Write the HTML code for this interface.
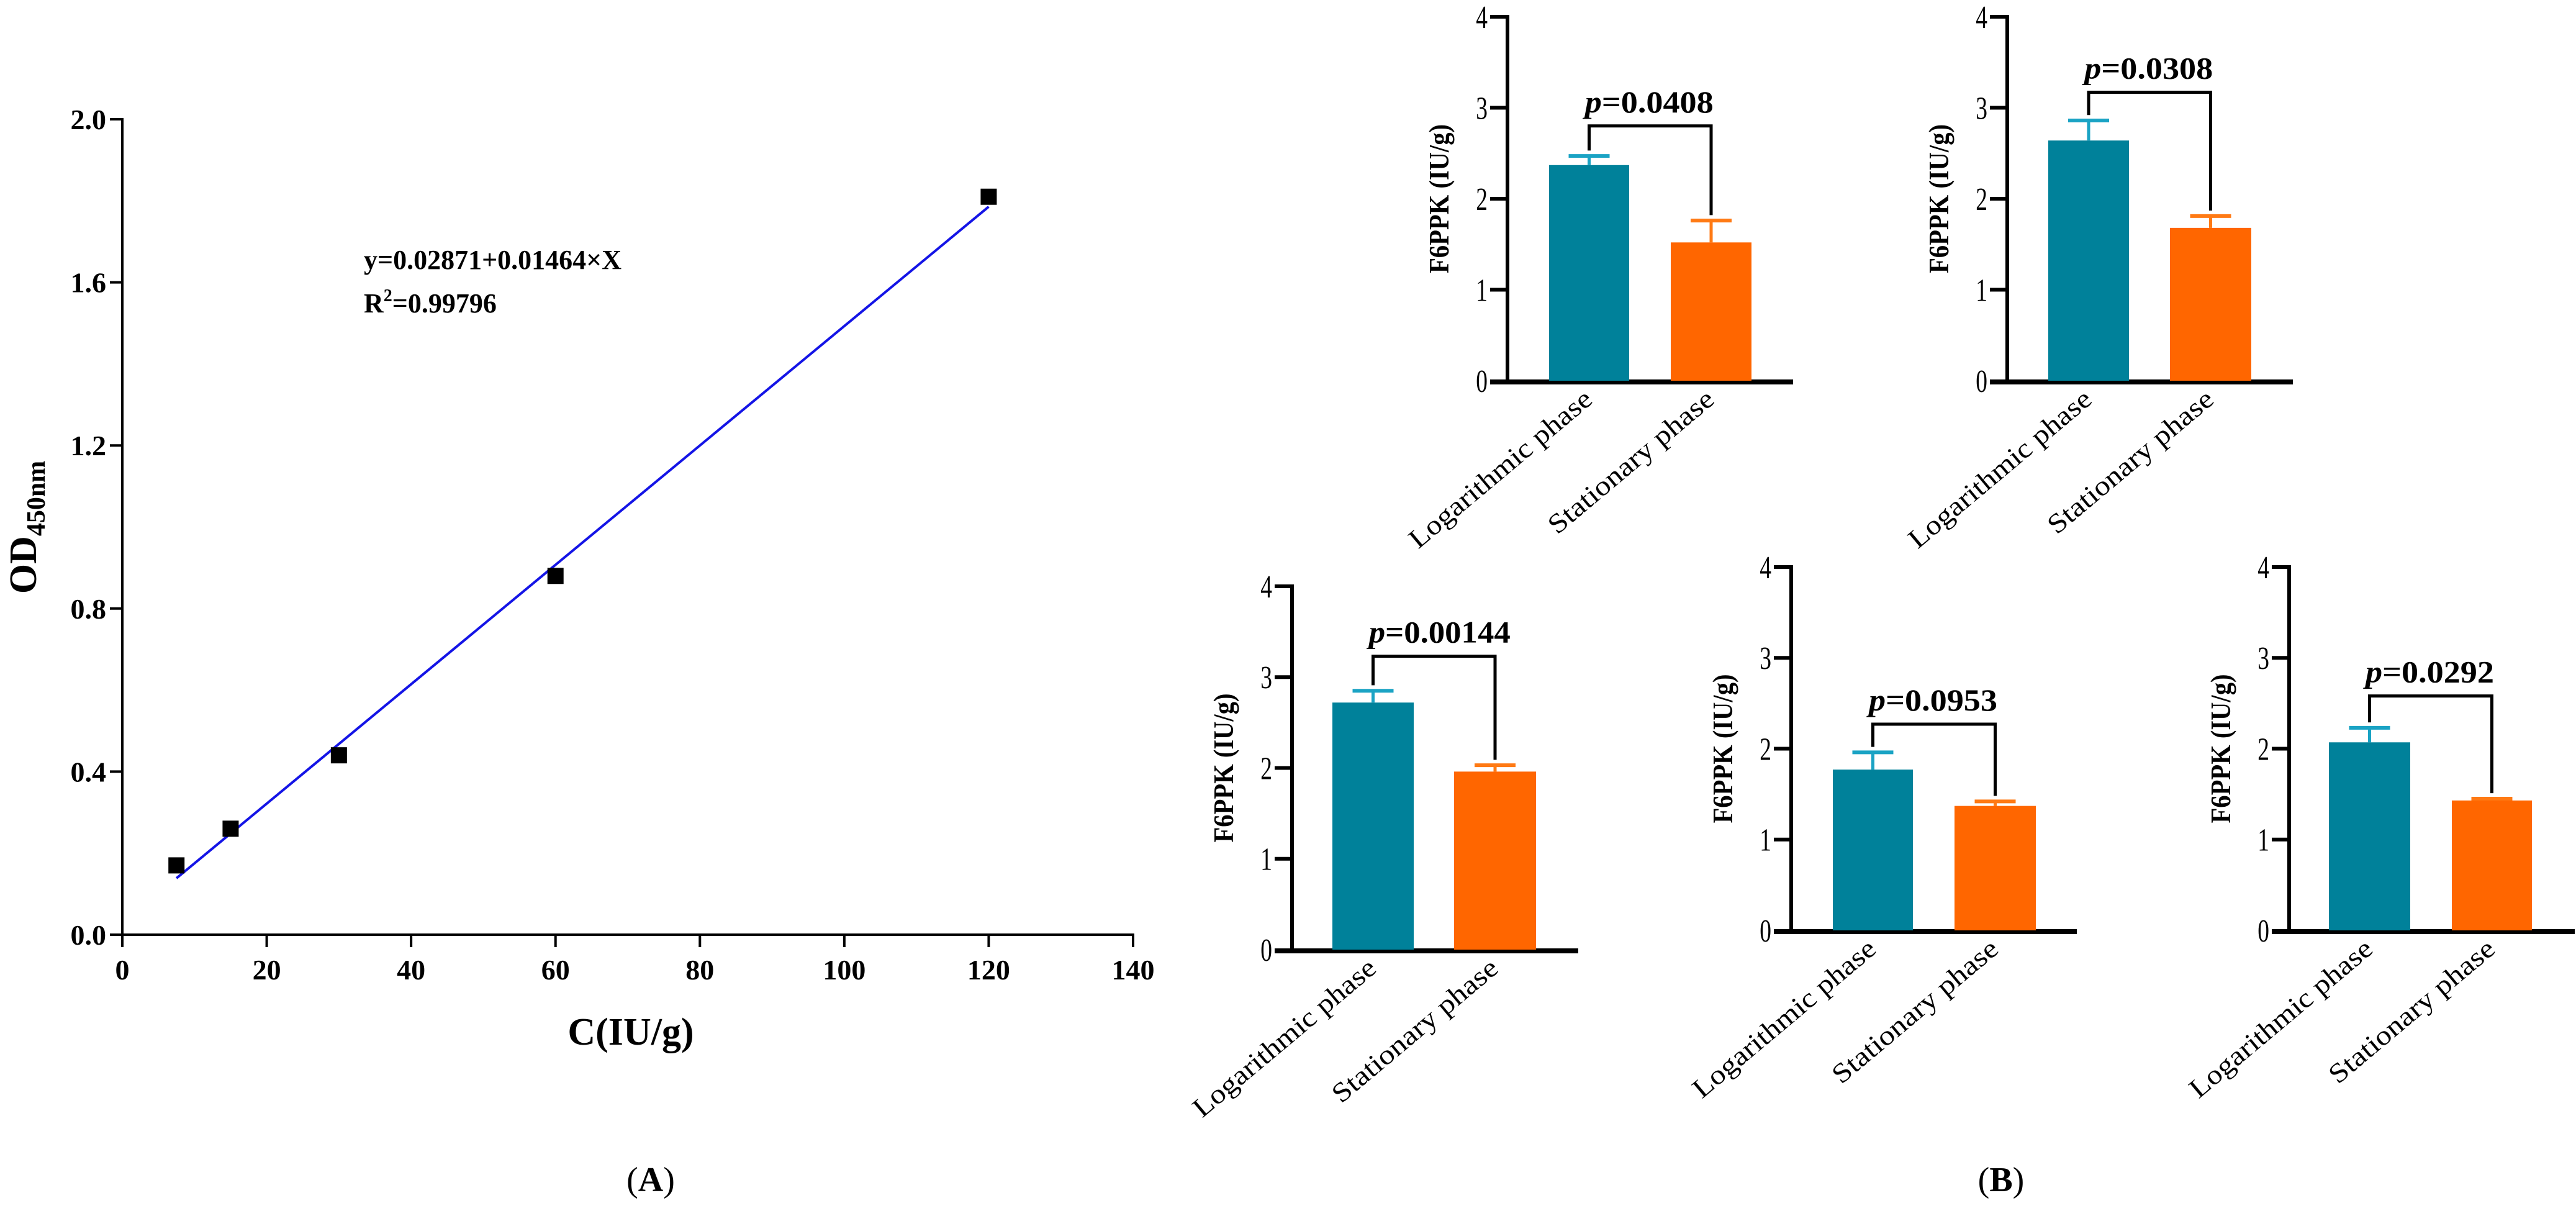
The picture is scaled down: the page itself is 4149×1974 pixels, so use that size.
<!DOCTYPE html>
<html><head><meta charset="utf-8"><style>
html,body{margin:0;padding:0;background:#fff;}
svg{display:block;font-family:"Liberation Serif",serif;}
</style></head><body>
<svg id="fig" width="4149" height="1974" viewBox="0 0 4149 1974" xmlns="http://www.w3.org/2000/svg">
<g id="panelA"></g>
<g id="panelB"></g>
<text x="1048" y="1918" font-size="56" text-anchor="middle">(<tspan font-weight="bold">A</tspan>)</text>
<text x="3223" y="1918" font-size="56" text-anchor="middle">(<tspan font-weight="bold">B</tspan>)</text>
</svg>
<script>
// Panel A data
const concX = [7.5, 15, 30, 60, 120];
const odY = [0.17, 0.26, 0.44, 0.88, 1.81];
const xTicksA = [0, 20, 40, 60, 80, 100, 120, 140];
const yTicksA = ["0.0", "0.4", "0.8", "1.2", "1.6", "2.0"];
const fitIntercept = 0.02871;
const fitSlope = 0.01464;

// Panel B data
const categories = ["Logarithmic phase", "Stationary phase"];
const logMeans = [2.37, 2.64, 2.72, 1.77, 2.07];
const logErr = [0.10, 0.22, 0.13, 0.19, 0.16];
const statMeans = [1.52, 1.68, 1.96, 1.37, 1.43];
const statErr = [0.24, 0.13, 0.07, 0.05, 0.02];
const pLabels = ["0.0408", "0.0308", "0.00144", "0.0953", "0.0292"];
const bracketLevels = [2.8, 3.17, 3.23, 2.27, 2.58];
const yTicksB = [0, 1, 2, 3, 4];

const NS = "http://www.w3.org/2000/svg";
function mk(parent, tag, attrs, txt) {
  const e = document.createElementNS(NS, tag);
  for (const k in attrs) e.setAttribute(k, attrs[k]);
  if (txt !== undefined) e.textContent = txt;
  parent.appendChild(e);
  return e;
}

// ---------- Panel A ----------
const A = document.getElementById('panelA');
const ax0 = 197, ax1 = 1825, ay0 = 1505, ay1 = 192;
const sxA = v => ax0 + (v / 140) * (ax1 - ax0);
const syA = v => ay0 - (v / 2.0) * (ay0 - ay1);
let e;
e = mk(A, 'line', {x1: ax0, y1: ay0, x2: ax0, y2: ay1 - 2, stroke: '#000', 'stroke-width': 4});
 
e = mk(A, 'line', {x1: ax0 - 2, y1: ay0, x2: ax1 + 2, y2: ay0, stroke: '#000', 'stroke-width': 4});
 
xTicksA.forEach(t => {
  const x = sxA(t);
  mk(A, 'line', {x1: x, y1: ay0, x2: x, y2: ay0 + 20, stroke: '#000', 'stroke-width': 4});
  e = mk(A, 'text', {x: x, y: ay0 + 72, 'font-size': 46, 'font-weight': 'bold', 'text-anchor': 'middle'}, t);
   
});
yTicksA.forEach(t => {
  const y = syA(parseFloat(t));
  mk(A, 'line', {x1: ax0 - 20, y1: y, x2: ax0, y2: y, stroke: '#000', 'stroke-width': 4});
  e = mk(A, 'text', {x: ax0 - 26, y: y + 16, 'font-size': 46, 'font-weight': 'bold', 'text-anchor': 'end'}, t);
   
});
e = mk(A, 'text', {x: 1016, y: 1682, 'font-size': 62, 'font-weight': 'bold', 'text-anchor': 'middle'}, 'C(IU/g)');
 
e = mk(A, 'text', {x: 0, y: 0, 'font-size': 62, 'font-weight': 'bold', 'text-anchor': 'middle', transform: 'translate(58,849) rotate(-90)'});
 
e.innerHTML = 'OD<tspan font-size="42" dy="14">450nm</tspan>';
const fx0 = concX[0], fx1 = concX[concX.length - 1];
e = mk(A, 'line', {x1: sxA(fx0), y1: syA(fitIntercept + fitSlope * fx0), x2: sxA(fx1), y2: syA(fitIntercept + fitSlope * fx1), stroke: '#1414e6', 'stroke-width': 4});
 
concX.forEach((c, i) => {
  e = mk(A, 'rect', {x: sxA(c) - 13, y: syA(odY[i]) - 13, width: 26, height: 26, fill: '#000'});
   
});
e = mk(A, 'text', {x: 586, y: 433, 'font-size': 44, 'font-weight': 'bold'}, 'y=0.02871+0.01464\u00d7X');
 
e = mk(A, 'text', {x: 586, y: 503, 'font-size': 44, 'font-weight': 'bold'});
 
e.innerHTML = 'R<tspan font-size="28" dy="-18">2</tspan><tspan dy="18">=0.99796</tspan>';

// ---------- Panel B ----------
const B = document.getElementById('panelB');
const charts = [
  {ax: 2428, y0: 613, y4: 27, xEnd: 2888, b1: [2495, 2624], b2: [2691, 2821]},
  {ax: 3233, y0: 613, y4: 27, xEnd: 3693, b1: [3299, 3429], b2: [3495, 3626]},
  {ax: 2081, y0: 1529, y4: 944, xEnd: 2542, b1: [2146, 2277], b2: [2342, 2474]},
  {ax: 2885, y0: 1498, y4: 913, xEnd: 3345, b1: [2952, 3081], b2: [3148, 3279]},
  {ax: 3687, y0: 1498, y4: 913, xEnd: 4147, b1: [3751, 3882], b2: [3949, 4078]}
];
charts.forEach((c, i) => {
  const g = mk(B, 'g', {});
  
  
  const sy = v => c.y0 - (v / 4) * (c.y0 - c.y4);
  e = mk(g, 'line', {x1: c.ax, y1: c.y0, x2: c.ax, y2: c.y4 - 3, stroke: '#000', 'stroke-width': 6});
   
  e = mk(g, 'line', {x1: c.ax - 28, y1: c.y0 + 2, x2: c.xEnd, y2: c.y0 + 2, stroke: '#000', 'stroke-width': 8});
   
  yTicksB.forEach(t => {
    const y = sy(t);
    if (t > 0) mk(g, 'line', {x1: c.ax - 28, y1: y, x2: c.ax, y2: y, stroke: '#000', 'stroke-width': 6});
    e = mk(g, 'text', {x: c.ax - 32, y: y + 18, 'font-size': 52, 'text-anchor': 'end', transform: `translate(${c.ax - 32},0) scale(0.72,1) translate(${-(c.ax - 32)},0)`}, t);
     
  });
  e = mk(g, 'text', {x: 0, y: 0, 'font-size': 46, 'font-weight': 'bold', 'text-anchor': 'middle', textLength: 240, lengthAdjust: 'spacingAndGlyphs', transform: `translate(${c.ax - 95},${sy(2)}) rotate(-90)`}, 'F6PPK (IU/g)');
   
  const means = [logMeans[i], statMeans[i]];
  const errs = [logErr[i], statErr[i]];
  const bars = [c.b1, c.b2];
  const fills = ['#00819a', '#ff6600'];
  const caps = ['#1aa3c4', '#ff7a14'];
  const names = ['bar-logarithmic', 'bar-stationary'];
  const centers = [];
  bars.forEach((b, j) => {
    const cx = (b[0] + b[1]) / 2; centers.push(cx);
    const top = sy(means[j]);
    const et = sy(means[j] + errs[j]);
    e = mk(g, 'line', {x1: cx, y1: top, x2: cx, y2: et, stroke: caps[j], 'stroke-width': 5});
     
    e = mk(g, 'line', {x1: cx - 33, y1: et, x2: cx + 33, y2: et, stroke: caps[j], 'stroke-width': 6});
     
    e = mk(g, 'rect', {x: b[0], y: top, width: b[1] - b[0], height: c.y0 - top, fill: fills[j]});
     
    const len = j === 0 ? 370 : 334;
    e = mk(g, 'text', {x: 0, y: 0, 'font-size': 44, 'text-anchor': 'end', textLength: len, lengthAdjust: 'spacingAndGlyphs', transform: `translate(${cx + 8},${c.y0 + 34}) rotate(-40)`}, categories[j]);
     
  });
  const by = sy(bracketLevels[i]);
  const l1 = sy(means[0] + errs[0] + 0.06), l2 = sy(means[1] + errs[1] + 0.06);
  e = mk(g, 'polyline', {points: `${centers[0]},${l1} ${centers[0]},${by} ${centers[1]},${by} ${centers[1]},${l2}`, fill: 'none', stroke: '#000', 'stroke-width': 5});
   
  const mid = (centers[0] + centers[1]) / 2;
  e = mk(g, 'text', {x: mid - 105, y: by - 22, 'font-size': 50, 'font-weight': 'bold', textLength: i === 2 ? 228 : 207, lengthAdjust: 'spacingAndGlyphs'});
   
  e.innerHTML = '<tspan font-style="italic">p</tspan>=' + pLabels[i];
});
</script>
</body></html>
